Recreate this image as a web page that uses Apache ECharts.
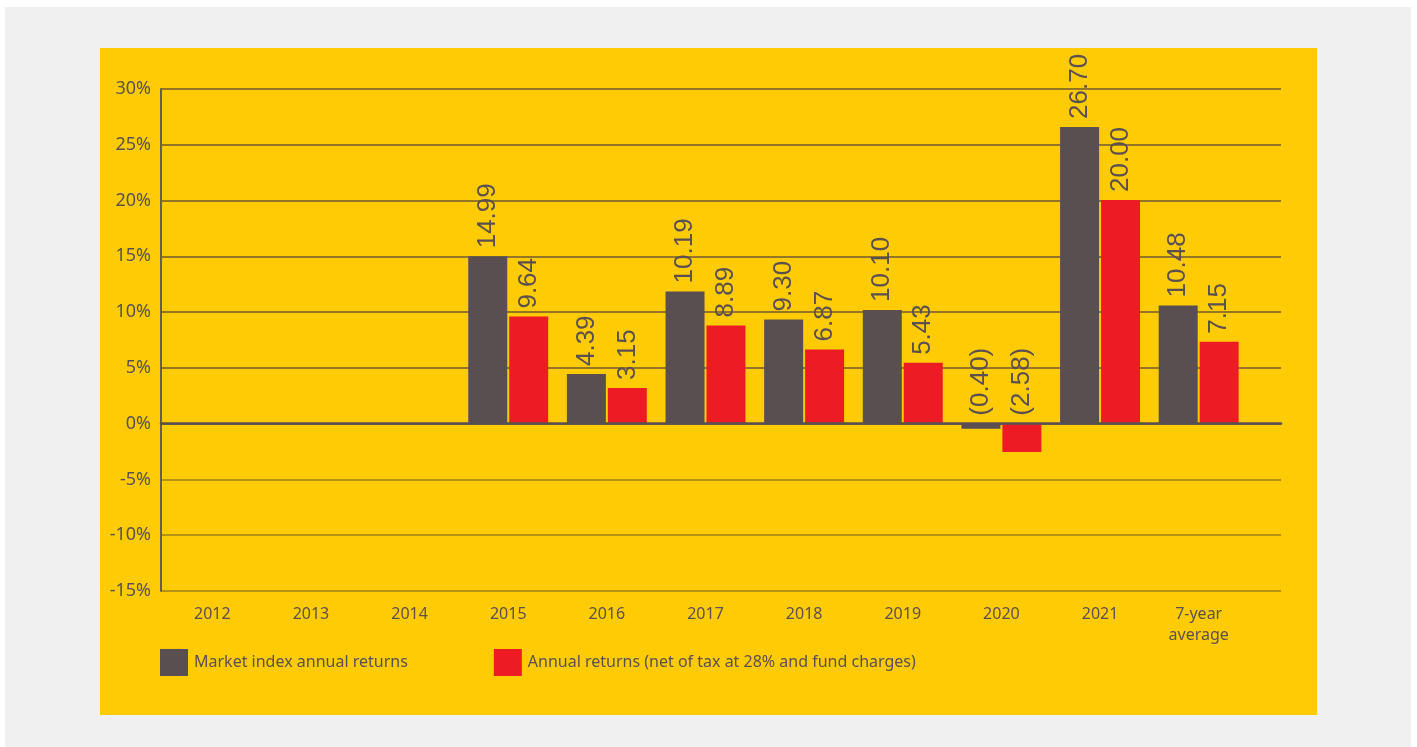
<!DOCTYPE html>
<html>
<head>
<meta charset="utf-8">
<script src="https://cdn.jsdelivr.net/npm/echarts@6/dist/echarts.min.js"></script>
<style>
  html, body { margin: 0; padding: 0; width: 1417px; height: 747px; background: #ffffff; overflow: hidden; }
  #panel { position: absolute; left: 5px; top: 7px; width: 1406px; height: 740px; background: #f0f0f0; }
  #chart { position: absolute; left: 100px; top: 48px; width: 1217px; height: 667px; background: #ffcb05; }
</style>
</head>
<body>
<div id="panel"></div>
<div id="chart"></div>
<script>
const categories = ['2012', '2013', '2014', '2015', '2016', '2017', '2018', '2019', '2020', '2021', '7-year\naverage'];
const seriesNames = ['Market index annual returns', 'Annual returns (net of tax at 28% and fund charges)'];
// bar heights as drawn in the picture (%)
const marketValues = [null, null, null, 15.0, 4.45, 11.85, 9.34, 10.2, -0.45, 26.6, 10.6];
const netValues = [null, null, null, 9.6, 3.2, 8.8, 6.65, 5.45, -2.55, 20.05, 7.35];
// value labels printed above the bars
const marketLabels = ['', '', '', '14.99', '4.39', '10.19', '9.30', '10.10', '(0.40)', '26.70', '10.48'];
const netLabels = ['', '', '', '9.64', '3.15', '8.89', '6.87', '5.43', '(2.58)', '20.00', '7.15'];
const yTicks = { min: -15, max: 30, interval: 5 };

const textColor = '#5a5050';
const font = "'Noto Sans', sans-serif";

function labelCfg(labels) {
  return {
    show: true,
    position: 'top',
    rotate: 90,
    align: 'left',
    verticalAlign: 'middle',
    distance: 8,
    fontFamily: "'Liberation Sans', sans-serif",
    fontSize: 26,
    color: textColor,
    formatter: p => labels[p.dataIndex]
  };
}

const chart = echarts.init(document.getElementById('chart'), null, { renderer: 'canvas' });
chart.setOption({
  backgroundColor: 'transparent',
  animation: false,
  grid: [
    { left: 61, right: 36, top: 41, bottom: 124, containLabel: false },
    { left: 63, right: 69, top: 41, bottom: 124, containLabel: false }
  ],
  legend: {
    left: 60,
    top: 601,
    padding: 0,
    itemWidth: 28,
    itemHeight: 27,
    itemGap: 86,
    icon: 'rect',
    textStyle: { fontFamily: font, fontSize: 16, color: textColor, padding: [0, 0, 0, 1] },
    data: seriesNames
  },
  xAxis: [
    {
      gridIndex: 0, type: 'value', min: 0, max: 1,
      axisLine: { show: true, onZero: true, lineStyle: { color: '#5a5050', width: 2.5 } },
      axisTick: { show: false }, axisLabel: { show: false }, splitLine: { show: false },
      z: 10
    },
    {
      gridIndex: 1, type: 'category', data: categories,
      axisLine: { show: false }, axisTick: { show: false },
      axisLabel: { fontFamily: font, fontSize: 16, color: textColor, margin: 13, lineHeight: 21 },
      splitLine: { show: false }
    }
  ],
  yAxis: [
    {
      gridIndex: 0, type: 'value', min: yTicks.min, max: yTicks.max, interval: yTicks.interval,
      axisLine: { show: true, lineStyle: { color: '#665c5c', width: 2 } },
      axisTick: { show: false },
      axisLabel: { fontFamily: font, fontSize: 18, color: textColor, margin: 10, formatter: v => v + '%' },
      splitLine: { show: true, lineStyle: { width: 1.5, color: ['#9c7e1c', '#9c7e1c', '#9c7e1c', '#5a5050', '#6e5a32', '#6e5a32', '#6e5a32', '#6e5a32', '#6e5a32', '#6e5a32'] } }
    },
    {
      gridIndex: 1, type: 'value', min: yTicks.min, max: yTicks.max, interval: yTicks.interval,
      show: false, splitLine: { show: false }
    }
  ],
  series: [
    {
      name: seriesNames[0], type: 'bar', xAxisIndex: 1, yAxisIndex: 1,
      data: marketValues, barWidth: 39, barGap: '5%',
      itemStyle: { color: '#594f50' },
      label: labelCfg(marketLabels)
    },
    {
      name: seriesNames[1], type: 'bar', xAxisIndex: 1, yAxisIndex: 1,
      data: netValues, barWidth: 39, barGap: '5%',
      itemStyle: { color: '#ed1c24' },
      label: labelCfg(netLabels)
    }
  ]
});
</script>
</body>
</html>
